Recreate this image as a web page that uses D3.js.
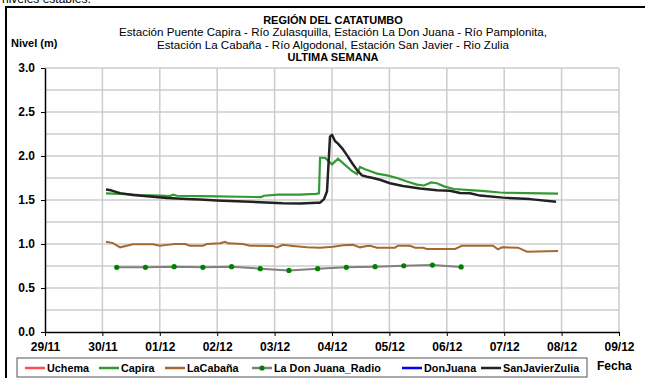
<!DOCTYPE html>
<html>
<head>
<meta charset="utf-8">
<script src="https://cdn.jsdelivr.net/npm/d3@7"></script>
<style>
  body { margin: 0; background: #fff; }
  svg { display: block; font-family: "Liberation Sans", Arial, sans-serif; }
</style>
</head>
<body>
<svg id="chart" width="645" height="378"></svg>
<script>
// Station levels (m), last week of records
const capiraTimes = ["30/11 01:30","30/11 07:24","30/11 15:43","01/12 00:05","01/12 04:16","01/12 05:31","01/12 07:11","01/12 16:48","01/12 23:55","02/12 09:32","02/12 18:18","02/12 19:34","03/12 01:25","03/12 10:37","03/12 17:19","03/12 18:34","03/12 19:00","03/12 21:04","04/12 00:00","04/12 02:30","04/12 05:26","04/12 08:22","04/12 10:27","04/12 11:42","04/12 13:48","04/12 15:53","04/12 18:49","04/12 23:00","05/12 03:11","05/12 07:22","05/12 11:32","05/12 14:28","05/12 17:24","05/12 19:54","05/12 22:50","06/12 03:01","06/12 09:42","06/12 16:00","06/12 22:14","07/12 09:32","07/12 22:30"];
const capiraLevels = [1.575,1.57,1.557,1.55,1.545,1.56,1.548,1.545,1.542,1.537,1.533,1.548,1.56,1.562,1.57,1.575,1.98,1.98,1.905,1.97,1.90,1.83,1.795,1.875,1.85,1.83,1.80,1.78,1.75,1.71,1.675,1.665,1.70,1.69,1.655,1.625,1.612,1.60,1.585,1.577,1.572];

const sanJavierTimes = ["30/11 01:30","30/11 03:36","30/11 07:24","30/11 12:48","30/11 19:54","01/12 03:00","01/12 11:22","01/12 16:48","01/12 23:55","02/12 13:43","03/12 03:30","03/12 10:37","03/12 17:44","03/12 19:00","03/12 20:40","03/12 21:55","03/12 23:10","04/12 00:00","04/12 01:15","04/12 02:30","04/12 04:10","04/12 06:15","04/12 08:22","04/12 10:27","04/12 12:32","04/12 14:38","04/12 17:09","04/12 20:04","05/12 00:15","05/12 05:41","05/12 12:48","05/12 19:54","06/12 01:20","06/12 05:31","06/12 09:42","06/12 13:53","06/12 23:30","07/12 10:47","07/12 21:40"];
const sanJavierLevels = [1.62,1.61,1.578,1.557,1.54,1.522,1.51,1.505,1.495,1.48,1.462,1.46,1.47,1.47,1.51,1.60,2.22,2.24,2.17,2.14,2.09,2.01,1.92,1.84,1.78,1.765,1.75,1.73,1.69,1.66,1.63,1.61,1.605,1.58,1.576,1.55,1.527,1.51,1.48];

const cabanaTimes = ["30/11 01:30","30/11 04:26","30/11 07:24","30/11 12:48","30/11 21:09","01/12 00:05","01/12 03:00","01/12 06:21","01/12 10:32","01/12 12:38","01/12 18:04","01/12 19:44","02/12 01:10","02/12 03:16","02/12 04:31","02/12 10:47","02/12 13:43","02/12 23:20","03/12 01:00","03/12 03:30","03/12 07:41","03/12 13:33","03/12 19:00","04/12 00:25","04/12 04:36","04/12 08:47","04/12 11:42","04/12 14:38","04/12 15:53","04/12 18:49","05/12 02:20","05/12 03:36","05/12 08:37","05/12 10:42","05/12 14:03","05/12 15:43","06/12 03:26","06/12 06:21","06/12 19:18","06/12 21:24","06/12 23:04","07/12 05:46","07/12 09:32","07/12 22:30"];
const cabanaLevels = [1.026,1.01,0.962,0.996,0.998,0.98,0.99,1.0,1.0,0.98,0.98,1.0,1.008,1.026,1.008,1.0,0.98,0.977,0.962,0.99,0.977,0.962,0.958,0.97,0.985,0.99,0.962,0.977,0.98,0.958,0.958,0.98,0.98,0.958,0.958,0.943,0.943,0.98,0.98,0.94,0.962,0.958,0.912,0.92];

const radioTimes = ["30/11 06:00","30/11 18:00","01/12 06:00","01/12 18:00","02/12 06:00","02/12 18:00","03/12 06:00","03/12 18:00","04/12 06:00","04/12 18:00","05/12 06:00","05/12 18:00","06/12 06:00"];
const radioLevels = [0.735,0.735,0.742,0.735,0.742,0.72,0.70,0.72,0.735,0.742,0.753,0.761,0.739];

const dayTicks = ["29/11","30/11","01/12","02/12","03/12","04/12","05/12","06/12","07/12","08/12","09/12"];
const levelTicks = [0, 0.5, 1.0, 1.5, 2.0, 2.5, 3.0];
const gridLevels = [0.25, 0.5, 0.75, 1.0, 1.25, 1.5, 1.75, 2.0, 2.25, 2.5, 2.75, 3.0];

const legendNames = ["Uchema", "Capira", "LaCabaña", "La Don Juana_Radio", "DonJuana", "SanJavierZulia"];
const legendColors = ["#ff4d4d", "#339933", "#a5692f", "#808080", "#0000ff", "#222222"];

const titleLines = [
  { text: "REGIÓN DEL CATATUMBO", bold: true },
  { text: "Estación Puente Capira - Río Zulasquilla, Estación La Don Juana - Río Pamplonita,", bold: false },
  { text: "Estación La Cabaña - Río Algodonal, Estación San Javier - Rio Zulia", bold: false },
  { text: "ULTIMA SEMANA", bold: true }
];

const parseTime = d3.timeParse("%d/%m %H:%M");
const parseDay = d3.timeParse("%d/%m");
const pairs = (times, levels) => times.map((t, i) => ({ t: parseTime(t), v: levels[i] }));

const svg = d3.select("#chart");

// Sheet text partly above the chart
svg.append("text").attr("x", 2).attr("y", 3)
  .attr("font-size", 12).attr("fill", "#000").text("niveles estables.");

// Chart frame
svg.append("rect").attr("x", 6).attr("y", 7).attr("width", 700).attr("height", 420)
  .attr("fill", "#fff").attr("stroke", "#000").attr("stroke-width", 2);

const plot = { left: 45, right: 619, top: 68, bottom: 332 };

const x = d3.scaleTime()
  .domain([parseDay(dayTicks[0]), parseDay(dayTicks[dayTicks.length - 1])])
  .range([plot.left, plot.right]);
const y = d3.scaleLinear().domain([0, 3]).range([plot.bottom, plot.top]);

// Grid
const grid = svg.append("g").attr("stroke", "#cccccc").attr("stroke-width", 1.5);
grid.selectAll("line.h").data(gridLevels).join("line")
  .attr("x1", plot.left).attr("x2", plot.right)
  .attr("y1", d => y(d)).attr("y2", d => y(d));
grid.selectAll("line.v").data(dayTicks.slice(1)).join("line")
  .attr("x1", d => x(parseDay(d))).attr("x2", d => x(parseDay(d)))
  .attr("y1", plot.top).attr("y2", plot.bottom);

// Axes
const xAxis = svg.append("g").attr("transform", `translate(0,${plot.bottom})`)
  .call(d3.axisBottom(x).tickValues(dayTicks.map(parseDay))
    .tickFormat(d3.timeFormat("%d/%m")).tickSize(4).tickSizeOuter(0).tickPadding(6));
const yAxis = svg.append("g").attr("transform", `translate(${plot.left},0)`)
  .call(d3.axisLeft(y).tickValues(levelTicks).tickFormat(d3.format(".1f"))
    .tickSize(4).tickSizeOuter(0).tickPadding(6));
[xAxis, yAxis].forEach(g => {
  g.select(".domain").attr("stroke", "#000").attr("stroke-width", 1.5);
  g.selectAll(".tick line").attr("stroke", "#000");
  g.selectAll(".tick text").attr("font-family", "Liberation Sans, Arial, sans-serif")
    .attr("font-size", 12).attr("font-weight", "bold").attr("fill", "#000");
});

// Series
const line = d3.line().x(d => x(d.t)).y(d => y(d.v));
svg.append("path").datum(pairs(cabanaTimes, cabanaLevels))
  .attr("d", line).attr("fill", "none").attr("stroke", legendColors[2]).attr("stroke-width", 2);
const radio = pairs(radioTimes, radioLevels);
svg.append("path").datum(radio)
  .attr("d", line).attr("fill", "none").attr("stroke", legendColors[3]).attr("stroke-width", 2);
svg.append("g").selectAll("circle").data(radio).join("circle")
  .attr("cx", d => x(d.t)).attr("cy", d => y(d.v)).attr("r", 2.6).attr("fill", "#008000");
svg.append("path").datum(pairs(capiraTimes, capiraLevels))
  .attr("d", line).attr("fill", "none").attr("stroke", legendColors[1]).attr("stroke-width", 2.2);
svg.append("path").datum(pairs(sanJavierTimes, sanJavierLevels))
  .attr("d", line).attr("fill", "none").attr("stroke", legendColors[5]).attr("stroke-width", 2.5)
  .attr("stroke-linejoin", "round");

// Titles
svg.append("g").selectAll("text").data(titleLines).join("text")
  .attr("x", 333).attr("y", (d, i) => 24 + i * 12.3)
  .attr("text-anchor", "middle").attr("font-size", d => d.bold ? 11 : 11.6)
  .attr("font-weight", d => d.bold ? "bold" : "normal").text(d => d.text);
svg.append("text").attr("x", 11).attr("y", 47).attr("font-size", 11)
  .attr("font-weight", "bold").text("Nivel (m)");
svg.append("text").attr("x", 597).attr("y", 370).attr("font-size", 12)
  .attr("font-weight", "bold").text("Fecha");

// Legend
const legend = svg.append("g");
legend.append("rect").attr("x", 17).attr("y", 358).attr("width", 570).attr("height", 19)
  .attr("fill", "#fff").attr("stroke", "#555").attr("stroke-width", 1);
const legendX = [25, 99, 165, 252, 402, 481];
const items = legend.selectAll("g.item").data(legendNames).join("g")
  .attr("transform", (d, i) => `translate(${legendX[i]},368)`);
items.append("line").attr("x1", 0).attr("x2", 20).attr("y1", 0).attr("y2", 0)
  .attr("stroke", (d, i) => legendColors[i]).attr("stroke-width", 2.5);
items.filter((d, i) => i === 3).append("circle").attr("cx", 10).attr("cy", 0).attr("r", 2.6)
  .attr("fill", "#008000");
items.append("text").attr("x", 22).attr("y", 4).attr("font-size", 10.8)
  .attr("font-weight", "bold").text(d => d);
</script>
</body>
</html>
